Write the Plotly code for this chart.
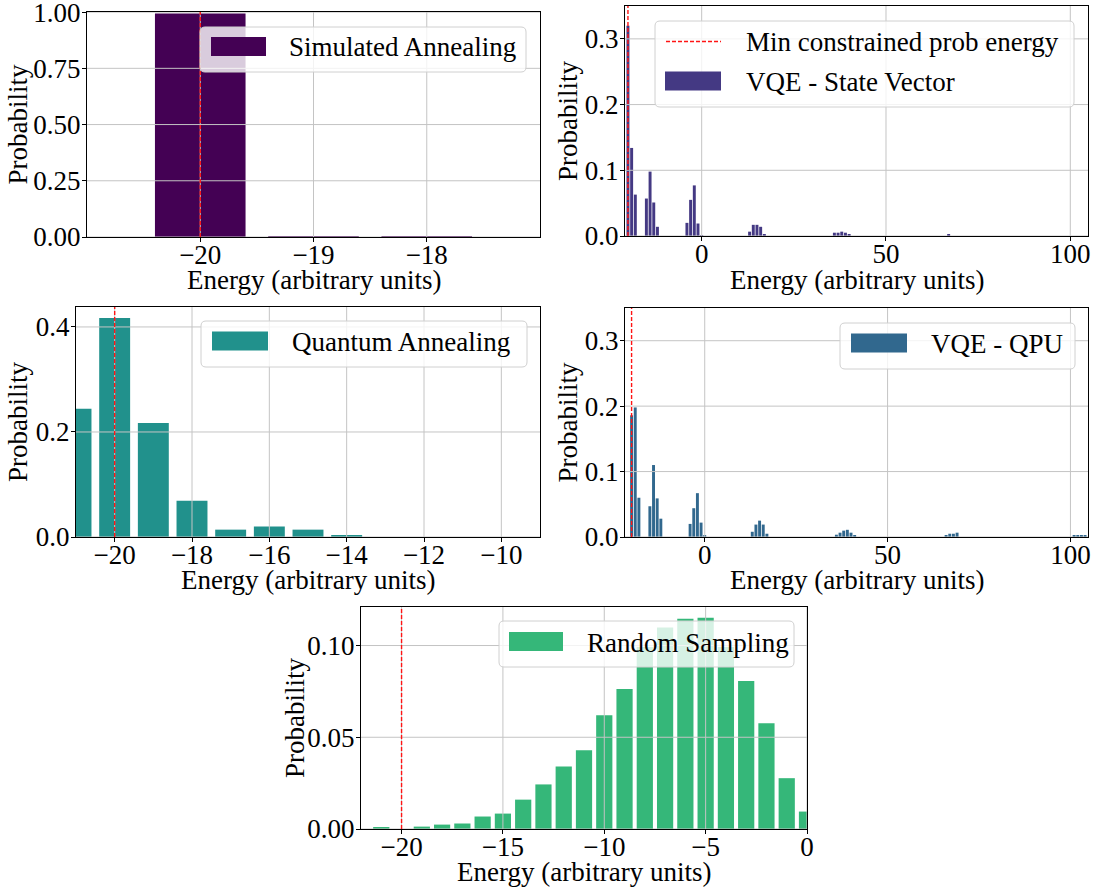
import plotly.graph_objects as go

FONT = "Liberation Serif"
W, H = 1099, 888

MIN_ENERGY = -20  # minimum constrained-problem energy (red dashed line)

# ---------------- data ----------------
sa_energy = [-20, -19, -18]
sa_prob = [0.994, 0.002, 0.004]

sv_energy = [-20, -19, -18, -15, -14, -13, -12, -4, -3, -2, -1, 0,
             13, 14, 15, 16, 17, 36, 37, 38, 39, 40, 67]
sv_prob = [0.320, 0.134, 0.063, 0.057, 0.098, 0.051, 0.014, 0.020, 0.055, 0.077, 0.019, 0.0015,
           0.0066, 0.017, 0.017, 0.014, 0.002, 0.005, 0.005, 0.0066, 0.005, 0.002, 0.002]

qa_energy = [-21, -20, -19, -18, -17, -16, -15, -14]
qa_prob = [0.244, 0.417, 0.217, 0.069, 0.014, 0.020, 0.014, 0.0025]

qpu_energy = [-20, -19, -18, -15, -14, -13, -12, -4, -3, -2, -1, 0,
              13, 14, 15, 16, 17, 36, 37, 38, 39, 40, 41, 66, 67, 68, 69,
              101, 102, 103, 104]
qpu_prob = [0.186, 0.198, 0.060, 0.047, 0.110, 0.059, 0.028, 0.020, 0.044, 0.067, 0.022, 0.002,
            0.008, 0.019, 0.025, 0.019, 0.005, 0.0035, 0.0066, 0.0097, 0.011, 0.0066, 0.002,
            0.002, 0.005, 0.005, 0.0066, 0.002, 0.002, 0.003, 0.003]

rs_energy = [-21, -19, -18, -17, -16, -15, -14, -13, -12, -11, -10, -9, -8, -7, -6, -5, -4,
             -3, -2, -1, 0]
rs_prob = [0.0007, 0.0013, 0.0024, 0.003, 0.0068, 0.0084, 0.016, 0.0243, 0.0341, 0.0429,
           0.062, 0.0763, 0.0992, 0.1098, 0.1146, 0.1151, 0.0992, 0.0807, 0.0577, 0.0277, 0.0095]

# tick labels
sa_xticks = [-20, -19, -18]
sa_yticks = [0, 0.25, 0.5, 0.75, 1.0]
vqe_xticks = [0, 50, 100]
vqe_yticks = [0, 0.1, 0.2, 0.3]
qa_xticks = [-20, -18, -16, -14, -12, -10]
qa_yticks = [0, 0.2, 0.4]
rs_xticks = [-20, -15, -10, -5, 0]
rs_yticks = [0, 0.05, 0.10]

XTITLE = "Energy (arbitrary units)"
YTITLE = "Probability"
LINE_LABEL = "Min constrained prob energy"

RED = "rgb(255,20,20)"
GRID = "#c4c4c4"

# ---------------- panel layout (pixels) ----------------
panels = [
    dict(name="Simulated Annealing", e=sa_energy, p=sa_prob, color="#440154",
         box=(87, 540, 12, 237), xr=[-21, -17], yr=[0, 1.0005], xt=sa_xticks, yt=sa_yticks,
         yfmt=".2f", ylab_x=17, xlab_y=280,
         legbox=(200, 27, 526, 72), items=[("bar", 211, 266, 46.5, 287)]),
    dict(name="VQE - State Vector", e=sv_energy, p=sv_prob, color="#443983",
         box=(625, 1088, 6, 236), xr=[-20.8, 104.8], yr=[0, 0.35], xt=vqe_xticks, yt=vqe_yticks,
         yfmt=".1f", ylab_x=568, xlab_y=280,
         legbox=(655, 21, 1074, 107), items=[("line", 666, 721, 41.5, 744),
                                             ("bar", 665, 721, 81, 744)]),
    dict(name="Quantum Annealing", e=qa_energy, p=qa_prob, color="#21918c",
         box=(76, 540, 307, 537), xr=[-21, -9], yr=[0, 0.438], xt=qa_xticks, yt=qa_yticks,
         yfmt=".1f", ylab_x=18, xlab_y=580,
         legbox=(201, 321, 527, 367), items=[("bar", 212, 268, 341, 290)]),
    dict(name="VQE - QPU", e=qpu_energy, p=qpu_prob, color="#31688e",
         box=(625, 1088, 308, 537), xr=[-21.8, 104.8], yr=[0, 0.35], xt=vqe_xticks, yt=vqe_yticks,
         yfmt=".1f", ylab_x=568, xlab_y=580,
         legbox=(840, 323, 1075, 369), items=[("bar", 851, 907, 343, 929)]),
    dict(name="Random Sampling", e=rs_energy, p=rs_prob, color="#35b779",
         box=(361, 807, 607, 829), xr=[-22, 0], yr=[0, 0.121], xt=rs_xticks, yt=rs_yticks,
         yfmt=".2f", ylab_x=295, xlab_y=872,
         legbox=(499, 621, 794, 667), items=[("bar", 509, 563, 641.5, 585)]),
]


def X(px):
    return px / W


def Y(py):
    return 1 - py / H


def rounded_rect(x0, y0, x1, y1, r=5):
    pts = [
        f"M{X(x0 + r)},{Y(y0)}", f"L{X(x1 - r)},{Y(y0)}", f"Q{X(x1)},{Y(y0)} {X(x1)},{Y(y0 + r)}",
        f"L{X(x1)},{Y(y1 - r)}", f"Q{X(x1)},{Y(y1)} {X(x1 - r)},{Y(y1)}",
        f"L{X(x0 + r)},{Y(y1)}", f"Q{X(x0)},{Y(y1)} {X(x0)},{Y(y1 - r)}",
        f"L{X(x0)},{Y(y0 + r)}", f"Q{X(x0)},{Y(y0)} {X(x0 + r)},{Y(y0)}", "Z",
    ]
    return " ".join(pts)


fig = go.Figure()
layout = dict(width=W, height=H, margin=dict(l=0, r=0, t=0, b=0),
              plot_bgcolor="white", paper_bgcolor="white",
              font=dict(family=FONT, size=27, color="black"),
              showlegend=False)
shapes = []
annotations = []

for i, pn in enumerate(panels, start=1):
    xa = "x" if i == 1 else f"x{i}"
    ya = "y" if i == 1 else f"y{i}"
    l, r, t, b = pn["box"]

    fig.add_trace(go.Bar(x=pn["e"], y=pn["p"], width=0.8,
                         marker=dict(color=pn["color"], line_width=0),
                         xaxis=xa, yaxis=ya, name=pn["name"]))

    axkey_x = "xaxis" if i == 1 else f"xaxis{i}"
    axkey_y = "yaxis" if i == 1 else f"yaxis{i}"
    common = dict(showgrid=False, zeroline=False, showline=True, mirror=True,
                  linecolor="black", linewidth=1, ticks="outside", ticklen=4,
                  tickcolor="black", tickfont=dict(family=FONT, size=27, color="black"),
                  automargin=False, tickmode="array", ticklabeloverflow="allow")
    layout[axkey_x] = dict(domain=[X(l), X(r)], anchor=ya, range=pn["xr"],
                           tickvals=pn["xt"], ticklabelstandoff=-10, **common)
    layout[axkey_y] = dict(domain=[Y(b), Y(t)], anchor=xa, range=pn["yr"],
                           tickvals=pn["yt"], tickformat=pn["yfmt"], ticklabelstandoff=-4,
                           **common)
    # grid lines above bars (matplotlib default)
    for xv in pn["xt"]:
        shapes.append(dict(type="line", xref=xa, yref=f"{ya} domain", x0=xv, x1=xv, y0=0, y1=1,
                           line=dict(color=GRID, width=1), layer="above"))
    for yv in pn["yt"]:
        shapes.append(dict(type="line", xref=f"{xa} domain", yref=ya, x0=0, x1=1, y0=yv, y1=yv,
                           line=dict(color=GRID, width=1), layer="above"))
    shapes.append(dict(type="line", xref=xa, yref=f"{ya} domain", x0=MIN_ENERGY, x1=MIN_ENERGY,
                       y0=0, y1=1, line=dict(color=RED, width=1.4, dash="4px,2px"),
                       layer="above"))

    # legend (drawn like matplotlib's: rounded translucent frame, wide swatch)
    bx0, by0, bx1, by1 = pn["legbox"]
    shapes.append(dict(type="path", xref="paper", yref="paper", path=rounded_rect(bx0, by0, bx1, by1),
                       fillcolor="rgba(255,255,255,0.8)", line=dict(color="#d0d0d0", width=1),
                       layer="above"))
    for kind, sx0, sx1, yc, tx in pn["items"]:
        if kind == "bar":
            shapes.append(dict(type="rect", xref="paper", yref="paper",
                               x0=X(sx0), x1=X(sx1), y0=Y(yc + 9.5), y1=Y(yc - 9.5),
                               fillcolor=pn["color"], line=dict(width=0), layer="above"))
            label = pn["name"]
        else:
            shapes.append(dict(type="line", xref="paper", yref="paper",
                               x0=X(sx0), x1=X(sx1), y0=Y(yc), y1=Y(yc),
                               line=dict(color=RED, width=1.4, dash="4px,2px"), layer="above"))
            label = LINE_LABEL
        annotations.append(dict(text=label, xref="paper", yref="paper", x=X(tx), y=Y(yc + 1),
                                xanchor="left", yanchor="middle", showarrow=False,
                                font=dict(family=FONT, size=27, color="black")))

    # axis titles
    annotations.append(dict(text=XTITLE, xref="paper", yref="paper", x=X((l + r) / 2),
                            y=Y(pn["xlab_y"]), xanchor="center", yanchor="middle",
                            showarrow=False, font=dict(family=FONT, size=27, color="black")))
    annotations.append(dict(text=YTITLE, xref="paper", yref="paper", x=X(pn["ylab_x"]),
                            y=Y((t + b) / 2), xanchor="center", yanchor="middle",
                            textangle=-90, showarrow=False,
                            font=dict(family=FONT, size=27, color="black")))

layout["shapes"] = shapes
layout["annotations"] = annotations
fig.update_layout(**layout)
fig.write_html("out.html", config={"displayModeBar": False},
               post_script="document.body.style.margin='0';document.body.style.padding='0';")
